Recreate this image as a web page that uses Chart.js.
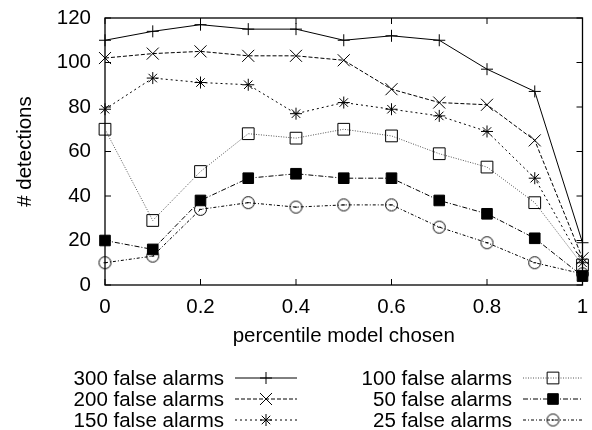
<!DOCTYPE html>
<html>
<head>
<meta charset="utf-8">
<script src="https://cdn.jsdelivr.net/npm/chart.js@4/dist/chart.umd.min.js"></script>
<style>
  html, body { margin: 0; padding: 0; background: #fff; }
</style>
</head>
<body>
<canvas id="chart" width="592" height="430"></canvas>
<script>
// data
const percentiles = [0, 0.1, 0.2, 0.3, 0.4, 0.5, 0.6, 0.7, 0.8, 0.9, 1];
const fa300 = [110, 114, 117, 115, 115, 110, 112, 110, 97, 87, 19];
const fa200 = [102, 104, 105, 103, 103, 101, 88, 82, 81, 65, 12];
const fa150 = [79, 93, 91, 90, 77, 82, 79, 76, 69, 48, 10];
const fa100 = [70, 29, 51, 68, 66, 70, 67, 59, 53, 37, 9];
const fa50 = [20, 16, 38, 48, 50, 48, 48, 38, 32, 21, 4];
const fa25 = [10, 13, 34, 37, 35, 36, 36, 26, 19, 10, 5];
const seriesLabels = ['300 false alarms', '200 false alarms', '150 false alarms',
                      '100 false alarms', '50 false alarms', '25 false alarms'];
const xTicks = [0, 0.2, 0.4, 0.6, 0.8, 1];
const yTicks = [0, 20, 40, 60, 80, 100, 120];

const FONT = '"Liberation Sans", Arial, sans-serif';
const FSIZE = 20.5;

// circle with a small dash inside (gnuplot style point)
function circleDot() {
  const c = document.createElement('canvas');
  c.width = 15; c.height = 15;
  const g = c.getContext('2d');
  g.strokeStyle = '#000';
  g.lineWidth = 1;
  g.beginPath(); g.arc(7.5, 7.5, 6, 0, Math.PI * 2); g.stroke();
  g.beginPath(); g.moveTo(6, 7.5); g.lineTo(9, 7.5); g.stroke();
  return c;
}

function series(label, data, color, dash, style, radius, fill) {
  return {
    label: label,
    data: percentiles.map((x, i) => ({ x: x, y: data[i] })),
    borderColor: color,
    borderWidth: 1,
    borderDash: dash,
    pointStyle: style,
    pointRadius: radius,
    pointBorderColor: '#000',
    pointBackgroundColor: fill,
    pointBorderWidth: 1,
    tension: 0,
    fill: false,
    clip: false
  };
}

const datasets = [
  series(seriesLabels[0], fa300, '#000', [], 'cross', 6, 'transparent'),
  series(seriesLabels[1], fa200, '#000', [4, 2], 'crossRot', 8.5, 'transparent'),
  series(seriesLabels[2], fa150, '#000', [2, 3], 'star', 6, 'transparent'),
  series(seriesLabels[3], fa100, '#555', [1, 1.5], 'rect', 8.3, 'transparent'),
  series(seriesLabels[4], fa50, '#000', [5, 2, 1, 2], 'rect', 7.5, '#000'),
  series(seriesLabels[5], fa25, '#000', [3, 2, 1, 2], circleDot(), 6, 'transparent')
];

// frame + inward ticks on all four sides
const framePlugin = {
  id: 'frame',
  beforeDatasetsDraw(chart) {
    const { ctx, chartArea: a, scales } = chart;
    ctx.save();
    ctx.strokeStyle = '#000';
    ctx.lineWidth = 1.3;
    ctx.setLineDash([]);
    ctx.strokeRect(a.left, a.top, a.right - a.left, a.bottom - a.top);
    ctx.lineWidth = 1;
    ctx.beginPath();
    yTicks.forEach(v => {
      const y = scales.y.getPixelForValue(v);
      ctx.moveTo(a.left, y); ctx.lineTo(a.left + 6, y);
      ctx.moveTo(a.right, y); ctx.lineTo(a.right - 6, y);
    });
    xTicks.forEach(v => {
      const x = scales.x.getPixelForValue(v);
      ctx.moveTo(x, a.bottom); ctx.lineTo(x, a.bottom - 6);
      ctx.moveTo(x, a.top); ctx.lineTo(x, a.top + 6);
    });
    ctx.stroke();
    ctx.restore();
  }
};

// gnuplot-like key: text, then line sample with marker
const keyPlugin = {
  id: 'key',
  afterDraw(chart) {
    const ctx = chart.ctx;
    const rows = [378, 399, 420];
    const cols = [{ textRight: 224, x0: 235, x1: 297 }, { textRight: 512, x0: 523, x1: 583 }];
    ctx.save();
    chart.data.datasets.forEach((ds, i) => {
      const col = cols[Math.floor(i / 3)];
      const y = rows[i % 3];
      ctx.font = FSIZE + 'px ' + FONT;
      ctx.fillStyle = '#000';
      ctx.textAlign = 'right';
      ctx.textBaseline = 'middle';
      ctx.fillText(ds.label, col.textRight, y + 1);
      ctx.strokeStyle = ds.borderColor;
      ctx.lineWidth = 1;
      ctx.setLineDash(ds.borderDash);
      ctx.beginPath(); ctx.moveTo(col.x0, y); ctx.lineTo(col.x1, y); ctx.stroke();
      ctx.setLineDash([]);
      ctx.strokeStyle = '#000';
      ctx.fillStyle = ds.pointBackgroundColor;
      Chart.helpers.drawPoint(ctx, {
        pointStyle: ds.pointStyle, radius: ds.pointRadius, rotation: 0, borderWidth: 1
      }, (col.x0 + col.x1) / 2, y);
    });
    ctx.restore();
  }
};

new Chart(document.getElementById('chart'), {
  type: 'line',
  data: { datasets: datasets },
  options: {
    responsive: false,
    animation: false,
    devicePixelRatio: 1,
    layout: { padding: { left: 0, top: 18, right: 4, bottom: 81 } },
    plugins: { legend: { display: false }, tooltip: { enabled: false } },
    scales: {
      x: {
        type: 'linear',
        min: 0, max: 1,
        grid: { display: false, drawTicks: false },
        border: { display: false },
        afterBuildTicks: s => { s.ticks = xTicks.map(v => ({ value: v })); },
        afterFit: s => { s.height = 64; s.paddingLeft = 0; s.paddingRight = 0; },
        ticks: {
          color: '#000', padding: 10, maxRotation: 0,
          font: { family: FONT, size: FSIZE },
          callback: v => String(v)
        },
        title: {
          display: true, text: 'percentile model chosen', color: '#000',
          font: { family: FONT, size: FSIZE }, padding: { top: 0, bottom: 0 }
        }
      },
      y: {
        min: 0, max: 120,
        grid: { display: false, drawTicks: false },
        border: { display: false },
        afterBuildTicks: s => { s.ticks = yTicks.map(v => ({ value: v })); },
        afterFit: s => { s.width = 105; s.paddingTop = 0; s.paddingBottom = 0; },
        ticks: {
          color: '#000', padding: 14,
          font: { family: FONT, size: FSIZE }
        },
        title: {
          display: true, text: '# detections', color: '#000',
          font: { family: FONT, size: FSIZE }, padding: { top: 13, bottom: 0 }
        }
      }
    }
  },
  plugins: [framePlugin, keyPlugin]
});
</script>
</body>
</html>
